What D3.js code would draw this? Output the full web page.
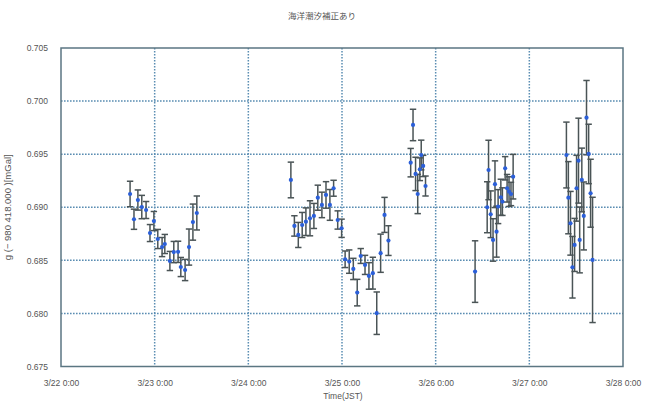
<!DOCTYPE html>
<html>
<head>
<meta charset="utf-8">
<script src="https://cdn.jsdelivr.net/npm/d3@7"></script>
<style>
  body { margin: 0; background: #fff; }
  text { font-family: "Liberation Sans", Arial, sans-serif; fill: #555; }
</style>
</head>
<body>
<svg id="chart" width="646" height="401"></svg>
<script>
// Labels
const chartTitle = "海洋潮汐補正あり";
const xTitle = "Time(JST)";
const yTitle = "g (− 980 418.000 )[mGal]";

// Axis ticks: hours since 3/22 0:00 and their labels
const xTickHours = [0, 24, 48, 72, 96, 120, 144];
const xTickLabels = ["3/22 0:00", "3/23 0:00", "3/24 0:00", "3/25 0:00", "3/26 0:00", "3/27 0:00", "3/28 0:00"];
const yTicks = [0.675, 0.680, 0.685, 0.690, 0.695, 0.700, 0.705];

// Observation time (hours since 3/22 0:00)
const obsHours = [
  17.7, 18.7, 19.7, 20.7, 21.8, 22.8, 23.8, 24.8, 25.9, 26.6, 27.9, 28.9, 30.0, 30.7, 31.8, 32.8, 33.8, 34.8,
  58.9, 59.8, 60.8, 61.8, 62.75, 63.8, 64.8, 65.8, 66.85, 67.9, 68.9, 69.85, 70.9, 71.9, 72.8, 73.85, 74.9, 75.9,
  76.8, 77.9, 78.9, 79.9, 80.9, 81.9, 82.9, 83.9,
  89.6, 90.2, 90.85, 91.4, 91.95, 92.3, 92.8, 93.4,
  106.1, 109.2, 109.55, 110.1, 110.7, 111.2, 111.6, 112.0, 112.7, 113.1, 113.8, 114.3, 114.8, 115.3, 115.85,
  129.5, 130.0, 130.55, 131.05, 131.6, 132.1, 132.6, 132.9, 133.45, 133.95, 134.65, 135.2, 135.7, 136.2
];

// Gravity value (mGal, offset shown on the axis title)
const gravity = [
  0.69125, 0.68887, 0.69068, 0.69002, 0.68974, 0.68757, 0.68870, 0.68701, 0.68625, 0.68654, 0.68494, 0.68578, 0.68580, 0.68437, 0.68409, 0.68625, 0.68860, 0.68946,
  0.69257, 0.68824, 0.68739, 0.68833, 0.68864, 0.68896, 0.68918, 0.69090, 0.69022, 0.69116, 0.69022, 0.69179, 0.68880, 0.68802, 0.68510, 0.68488, 0.68419, 0.68196,
  0.68541, 0.68457, 0.68353, 0.68379, 0.68002, 0.68567, 0.68928, 0.68686,
  0.69420, 0.69775, 0.69314, 0.69125, 0.69358, 0.69492, 0.69389, 0.69200,
  0.68394, 0.69000, 0.69351, 0.68934, 0.68692, 0.69217, 0.68770, 0.69006, 0.69094, 0.69053, 0.69367, 0.69179, 0.69147, 0.69125, 0.69288,
  0.69492, 0.69090, 0.68849, 0.68435, 0.68645, 0.69179, 0.69439, 0.68692, 0.69257, 0.68918, 0.69844, 0.69502, 0.69132, 0.68504
];

// Standard error of each value (mGal)
const stdErr = [
  0.0012, 0.00095, 0.00095, 0.0011, 0.0008, 0.0008, 0.0009, 0.0009, 0.0009, 0.0009, 0.0009, 0.0010, 0.0010, 0.0009, 0.0010, 0.0017, 0.0017, 0.0016,
  0.00168, 0.00096, 0.00118, 0.00118, 0.0013, 0.00165, 0.00118, 0.00118, 0.0012, 0.00125, 0.00145, 0.00075, 0.00086, 0.00086, 0.00078, 0.0011, 0.0010, 0.00125,
  0.0007, 0.0009, 0.00125, 0.0015, 0.0020, 0.0018, 0.00165, 0.0014,
  0.00134, 0.00148, 0.00157, 0.00185, 0.00107, 0.0014, 0.0010, 0.00094,
  0.0029, 0.0024, 0.0028, 0.0022, 0.0020, 0.0022, 0.0024, 0.0016, 0.0017, 0.0013, 0.0011, 0.0013, 0.0014, 0.0011, 0.0021,
  0.0031, 0.0034, 0.0030, 0.0029, 0.0025, 0.0031, 0.0040, 0.0031, 0.0030, 0.0032, 0.0035, 0.0028, 0.0032, 0.0059
];

const rows = obsHours.map((h, i) => ({ h, g: gravity[i], e: stdErr[i] }));

const svg = d3.select("#chart");
const plot = { left: 61, right: 623, top: 48, bottom: 366.5 };

const x = d3.scaleLinear().domain([0, 144]).range([plot.left, plot.right]);
const y = d3.scaleLinear().domain([0.675, 0.705]).range([plot.bottom, plot.top]);

// Dotted grid lines
const gridColor = "#5a8db2";
svg.append("g")
  .selectAll("line")
  .data(xTickHours.slice(1, -1))
  .join("line")
  .attr("x1", d => x(d)).attr("x2", d => x(d))
  .attr("y1", plot.top).attr("y2", plot.bottom)
  .attr("stroke", gridColor).attr("stroke-width", 1.5)
  .attr("stroke-dasharray", "1.6,1.4");

svg.append("g")
  .selectAll("line")
  .data(yTicks.slice(1, -1))
  .join("line")
  .attr("x1", plot.left).attr("x2", plot.right)
  .attr("y1", d => y(d)).attr("y2", d => y(d))
  .attr("stroke", gridColor).attr("stroke-width", 1.5)
  .attr("stroke-dasharray", "1.6,1.4");

// Plot frame
svg.append("rect")
  .attr("x", plot.left).attr("y", plot.top)
  .attr("width", plot.right - plot.left).attr("height", plot.bottom - plot.top)
  .attr("fill", "none").attr("stroke", "#5b7682").attr("stroke-width", 1.5);

// Axes (labels only; frame drawn above)
const xAxis = d3.axisBottom(x)
  .tickValues(xTickHours)
  .tickFormat((d, i) => xTickLabels[i])
  .tickSize(0).tickPadding(13);
const gx = svg.append("g").attr("transform", `translate(0,${plot.bottom})`).call(xAxis);
gx.select(".domain").remove();
gx.selectAll("text").style("font-size", "8.5px").attr("fill", "#555");

const yAxis = d3.axisLeft(y)
  .tickValues(yTicks)
  .tickFormat(d3.format(".3f"))
  .tickSize(0).tickPadding(13);
const gy = svg.append("g").attr("transform", `translate(${plot.left},0)`).call(yAxis);
gy.select(".domain").remove();
gy.selectAll("text").style("font-size", "8.5px").attr("fill", "#555");

// Error bars
const barColor = "#4a5456";
const capW = 3.2;
const bars = svg.append("g").selectAll("g").data(rows).join("g");
bars.append("line")
  .attr("x1", d => x(d.h)).attr("x2", d => x(d.h))
  .attr("y1", d => y(d.g + d.e)).attr("y2", d => y(d.g - d.e))
  .attr("stroke", barColor).attr("stroke-width", 1.5);
bars.append("line")
  .attr("x1", d => x(d.h) - capW).attr("x2", d => x(d.h) + capW)
  .attr("y1", d => y(d.g + d.e)).attr("y2", d => y(d.g + d.e))
  .attr("stroke", barColor).attr("stroke-width", 1.5);
bars.append("line")
  .attr("x1", d => x(d.h) - capW).attr("x2", d => x(d.h) + capW)
  .attr("y1", d => y(d.g - d.e)).attr("y2", d => y(d.g - d.e))
  .attr("stroke", barColor).attr("stroke-width", 1.5);

// Points
svg.append("g").selectAll("circle").data(rows).join("circle")
  .attr("cx", d => x(d.h)).attr("cy", d => y(d.g))
  .attr("r", 2.1).attr("fill", "#2b5fd9");

// Titles
svg.append("text")
  .attr("x", 322).attr("y", 19)
  .attr("text-anchor", "middle")
  .style("font-family", "'Noto Sans CJK JP', sans-serif")
  .style("font-size", "8.5px")
  .attr("fill", "#444")
  .text(chartTitle);

svg.append("text")
  .attr("x", (plot.left + plot.right) / 2 + 1).attr("y", 399)
  .attr("text-anchor", "middle")
  .style("font-size", "8.5px")
  .text(xTitle);

svg.append("text")
  .attr("transform", `translate(11,${(plot.top + plot.bottom) / 2}) rotate(-90)`)
  .attr("text-anchor", "middle")
  .style("font-size", "9.5px")
  .text(yTitle);
</script>
</body>
</html>
